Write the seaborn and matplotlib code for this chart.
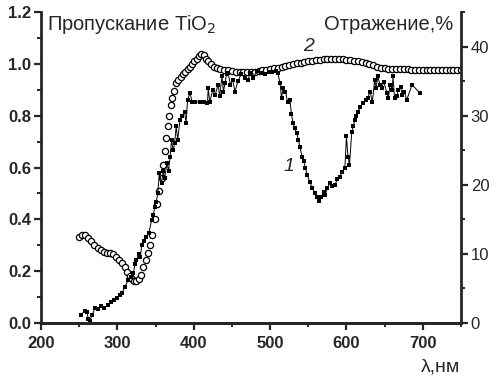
import matplotlib
matplotlib.use("Agg")
import matplotlib.pyplot as plt
from matplotlib.ticker import MultipleLocator
import seaborn as sns

# curve 2: transmission (left axis)
lam_t = [250, 254, 258, 262, 266, 270, 274, 278, 282, 286, 290, 294, 298, 302, 306,
         310, 313, 316, 319, 322, 325, 328, 331, 334, 337, 340, 343, 346, 349, 352,
         355, 358, 360, 362, 364, 366, 368, 370, 372, 374, 377, 380, 383, 386, 389,
         392, 395, 398, 401, 404, 407, 410, 413, 416, 419, 422, 426, 430, 435, 440,
         445, 450, 455, 460, 465, 470, 475, 480, 485, 490, 495, 500, 505, 510, 515,
         520, 525, 530, 535, 540, 545, 550, 555, 560, 565, 570, 575, 580, 585, 590,
         595, 600, 605, 610, 615, 620, 625, 630, 635, 640, 645, 650, 655, 660, 665,
         670, 675, 680, 685, 690, 695, 700, 705, 710, 715, 720, 725, 730, 735, 740,
         745, 750]
trans = [0.333, 0.340, 0.338, 0.330, 0.315, 0.300, 0.290, 0.280, 0.275, 0.272, 0.270,
         0.265, 0.255, 0.245, 0.230, 0.215, 0.195, 0.180, 0.168, 0.162, 0.162, 0.168,
         0.185, 0.215, 0.245, 0.270, 0.300, 0.340, 0.400, 0.460, 0.510, 0.560, 0.610,
         0.665, 0.715, 0.760, 0.800, 0.840, 0.870, 0.895, 0.925, 0.940, 0.950, 0.960,
         0.970, 0.980, 0.990, 1.000, 1.010, 1.020, 1.030, 1.040, 1.035, 1.020, 1.010,
         1.000, 0.990, 0.985, 0.980, 0.978, 0.975, 0.972, 0.970, 0.970, 0.968, 0.968,
         0.970, 0.970, 0.972, 0.975, 0.977, 0.980, 0.983, 0.986, 0.990, 0.993, 0.996,
         1.000, 1.003, 1.005, 1.008, 1.010, 1.013, 1.015, 1.017, 1.018, 1.019, 1.020,
         1.020, 1.020, 1.018, 1.016, 1.015, 1.013, 1.011, 1.008, 1.005, 1.000, 0.995,
         0.990, 0.986, 0.983, 0.980, 0.980, 0.980, 0.979, 0.979, 0.979, 0.978, 0.978,
         0.978, 0.978, 0.977, 0.977, 0.977, 0.976, 0.976, 0.976, 0.975, 0.975, 0.975,
         0.975]

# curve 1: reflection, % (right axis)
lam_r = [253, 257, 260, 262, 264, 267, 271, 275, 279, 283, 288, 292, 295, 299, 303,
         306, 310, 314, 318, 321, 323, 325, 328, 330, 332, 335, 338, 341, 345, 347,
         349, 351, 353, 355, 358, 360, 362, 365, 367, 369, 371, 373, 375, 377, 379,
         382, 385, 388, 390, 392, 395, 398, 402, 408, 414, 418, 419, 421, 425, 428,
         432, 434, 437, 439, 441, 443, 445, 448, 451, 454, 458, 462, 467, 471, 474,
         478, 483, 488, 493, 498, 503, 508, 510, 513, 515, 517, 520, 523, 526, 528,
         530, 532, 535, 537, 539, 542, 544, 546, 549, 552, 555, 559, 562, 564, 567,
         570, 572, 575, 578, 581, 585, 588, 591, 594, 598, 600, 602, 604, 607, 609,
         611, 613, 615, 618, 622, 625, 628, 631, 634, 637, 639, 641, 644, 646, 649,
         653, 655, 657, 660, 661, 663, 666, 668, 671, 673, 676, 679, 686, 696]
refl = [1.2, 1.8, 1.6, 0.6, 0.3, 1.2, 2.2, 2.0, 2.4, 2.2, 2.6, 3.0, 3.3, 3.6, 4.1,
        4.4, 5.2, 6.2, 6.6, 7.2, 8.5, 9.1, 10.0, 9.5, 11.3, 11.8, 12.5, 13.0, 14.9, 15.6,
        16.8, 17.5, 18.8, 21.7, 20.3, 22.0, 21.0, 23.2, 22.0, 24.0, 26.5, 25.0, 26.0, 28.5, 26.5,
        29.4, 30.0, 30.6, 29.0, 32.3, 33.3, 32.0, 32.0, 32.0, 32.0, 31.8, 34.0, 32.0, 33.8, 33.0,
        34.5, 32.8, 35.7, 33.5, 34.8, 36.0, 36.2, 34.5, 35.2, 33.5, 35.0, 36.0, 35.5, 35.2, 36.2,
        35.5, 36.5, 36.2, 36.0, 36.4, 36.3, 36.5, 36.2, 34.8, 32.6, 34.0, 33.5, 32.0, 32.3, 30.2,
        29.0, 28.2, 27.5, 26.5, 25.5, 24.1, 23.5, 22.5, 21.4, 20.4, 19.6, 18.8, 18.2, 17.7, 18.2,
        19.0, 18.5, 19.5, 20.3, 19.8, 20.0, 20.8, 21.2, 21.8, 22.5, 27.0, 24.1, 22.9, 27.7, 28.5,
        29.4, 30.0, 30.6, 31.2, 31.9, 32.3, 32.6, 33.5, 32.0, 35.2, 34.0, 35.7, 34.5, 34.0, 34.9,
        33.3, 32.6, 34.5, 33.8, 35.7, 32.6, 32.8, 33.8, 34.2, 33.0, 33.5, 32.3, 34.5, 33.3]

sns.set_style("ticks")
plt.rcParams['font.family'] = ['Liberation Sans', 'DejaVu Sans']

fig = plt.figure(figsize=(4.97, 3.8), dpi=100)
ax = fig.add_axes([0.0825, 0.15, 0.845, 0.818])
ax2 = ax.twinx()

sns.scatterplot(x=lam_t, y=trans, ax=ax, marker='o', s=20, facecolor='white',
                edgecolor='black', linewidth=0.9, zorder=3)
sns.lineplot(x=lam_r, y=refl, ax=ax2, color='black', lw=0.7, marker='s',
             markersize=2.8, markeredgewidth=0, sort=False, estimator=None)

ax.set_xlim(200, 750)
ax.set_ylim(0, 1.2)
ax2.set_ylim(0, 45)

ax.xaxis.set_major_locator(MultipleLocator(100))
ax.xaxis.set_minor_locator(MultipleLocator(50))
ax.yaxis.set_major_locator(MultipleLocator(0.2))
ax.yaxis.set_minor_locator(MultipleLocator(0.1))
ax2.yaxis.set_major_locator(MultipleLocator(10))
ax2.yaxis.set_minor_locator(MultipleLocator(5))
ax.yaxis.set_major_formatter(plt.FormatStrFormatter('%.1f'))

for a in (ax, ax2):
    a.spines['top'].set_visible(False)
    for s in a.spines.values():
        s.set_linewidth(2)
ax.spines['right'].set_visible(False)
ax2.spines['left'].set_visible(False)

ax.tick_params(which='major', length=5, width=1.6, labelsize=12, pad=2)
ax.tick_params(axis='x', which='major', pad=4)
ax.tick_params(which='minor', length=3, width=1.4)
ax2.tick_params(which='major', length=5, width=1.6, labelsize=12, pad=2)
ax2.tick_params(which='minor', length=3, width=1.4)
for lab in ax.get_xticklabels() + ax.get_yticklabels():
    lab.set_fontweight('bold')

ax.set_xlabel('')
ax.set_ylabel('')
ax2.set_ylabel('')

ax.text(208, 1.13, 'Пропускание TiO$_2$', fontsize=14.5, ha='left', va='baseline')
ax.text(740, 1.13, 'Отражение,%', fontsize=14.5, ha='right', va='baseline')
fig.text(0.926, 0.022, 'λ,нм', fontsize=14, ha='right', va='baseline')
ax.text(551, 1.066, '2', fontsize=14, style='italic', ha='center', va='center')
ax.text(525, 0.606, '1', fontsize=14, style='italic', ha='center', va='center')

fig.savefig('out.png', dpi=100)
